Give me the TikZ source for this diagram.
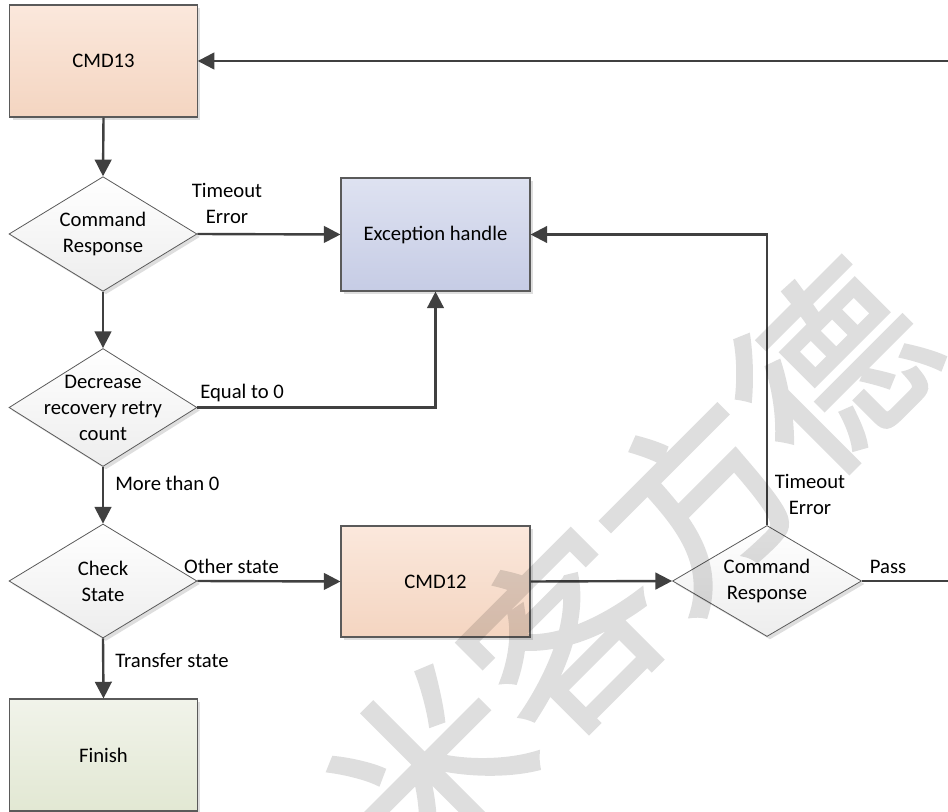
\documentclass[tikz,border=0pt]{standalone}
\usepackage{fontspec}
\setmainfont{Carlito}
\newfontfamily\cjkwm[FakeBold=2]{Noto Sans CJK SC}
\usetikzlibrary{shapes.geometric,arrows.meta,shadows}

\definecolor{linegray}{HTML}{404040}
\definecolor{edgegray}{HTML}{5A5A5A}
\definecolor{peachtop}{HTML}{FBE8DC}
\definecolor{peachbot}{HTML}{F4D5C1}
\definecolor{bluetop}{HTML}{DEE2F1}
\definecolor{bluebot}{HTML}{C6CCE5}
\definecolor{greentop}{HTML}{F1F3EA}
\definecolor{greenbot}{HTML}{E2E8D3}
\definecolor{diabot}{HTML}{EDEDED}

\begin{document}
\begin{tikzpicture}[x=0.75pt,y=-0.75pt,
  every node/.style={font=\fontsize{15.5}{19.5}\selectfont, text=black},
  softshadow/.style={drop shadow={shadow xshift=2.2pt, shadow yshift=-2.2pt, fill=black, opacity=0.13}},
  box/.style={rectangle, draw=edgegray, line width=0.8pt, inner sep=0pt,
    minimum width=140.5pt, minimum height=84pt, softshadow},
  peach/.style={box, top color=peachtop, bottom color=peachbot},
  bluebox/.style={box, top color=bluetop, bottom color=bluebot},
  greenbox/.style={box, top color=greentop, bottom color=greenbot},
  decision/.style={diamond, draw=edgegray, line width=0.6pt, inner sep=0pt,
    top color=white, bottom color=diabot, softshadow},
  dtext/.style={align=center, inner sep=0pt},
  lbl/.style={inner sep=0pt},
  conn/.style={draw=linegray, line width=1.8pt, -{Triangle[length=12.5pt,width=12.5pt]}},
  plain/.style={draw=linegray, line width=1.8pt}
]
\useasboundingbox (0,0) rectangle (948,812);

% process boxes
\node[peach] (cmd13) at (103.5,61) {CMD13};
\node[bluebox, minimum width=141.75pt, minimum height=84.75pt] (exc) at (435.5,234.5) {Exception handle};
\node[peach, minimum width=141.75pt, minimum height=83.25pt] (cmd12) at (435.5,581.5) {CMD12};
\node[greenbox] (fin) at (103.5,755) {Finish};

% decisions
\node[decision, minimum width=141pt, minimum height=86pt] (d1) at (103,234) {};
\node[dtext] (d1t) at (d1) {Command\\Response};
\node[decision, minimum width=141pt, minimum height=88.5pt] (d2) at (103,407.5) {};
\node[dtext] (d2t) at (d2) {Decrease\\recovery retry\\count};
\node[decision, minimum width=141pt, minimum height=85.5pt] (d3) at (103,581) {};
\node[dtext] (d3t) at (d3) {Check\\State};
\node[decision, minimum width=141.75pt, minimum height=83.25pt] (d4) at (767,581) {};
\node[dtext] (d4t) at (d4) {Command\\Response};

% loose ends at the right margin
\coordinate (retry) at (948,61);
\coordinate (passout) at (948,581);

% connectors
\draw[conn] (retry) -- (cmd13.east);
\draw[conn] (cmd13.south) -- (d1.north);
\draw[conn] (d1.east) -- (exc.west);
\draw[conn] (d1.south) -- (d2.north);
\draw[conn] (d2.east) -| (exc.south);
\draw[conn] (d2.south) -- (d3.north);
\draw[conn] (d3.east) -- (cmd12.west);
\draw[conn] (d3.south) -- (fin.north);
\draw[conn] (cmd12.east) -- (d4.west);
\draw[conn] (d4.north) |- (exc.east);
\draw[plain] (d4.east) -- (passout);

% connector labels
\node[lbl, align=center] (l1) at (227,203) {Timeout\\Error};
\node[lbl, anchor=west] (l2) at (200,393) {Equal to 0};
\node[lbl, anchor=west] (l3) at (115,483) {More than 0};
\node[lbl] (l4) at (231.5,566) {Other state};
\node[lbl, anchor=west] (l5) at (115,660) {Transfer state};
\node[lbl, align=center] (l6) at (810,494) {Timeout\\Error};
\node[lbl] (l7) at (888,567) {Pass};

% watermark, composed as one group so the emboldened glyphs blend evenly
\begin{scope}[transparency group, opacity=0.13]
\node[inner sep=0pt, rotate=45, text=black,
  font=\cjkwm\fontsize{142}{142}\selectfont] (wm) at (630,568) {米客方德};
\end{scope}
\end{tikzpicture}
\end{document}
